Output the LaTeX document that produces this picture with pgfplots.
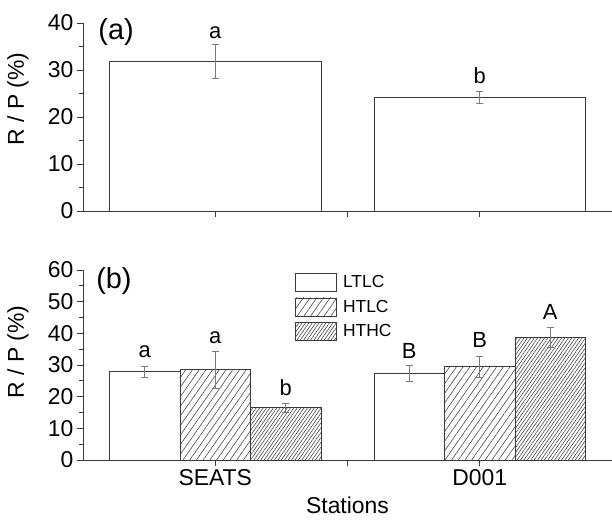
\documentclass[border=0pt]{standalone}
\usepackage{fontspec}
\setmainfont{Liberation Sans}
\usepackage{pgfplots}
\pgfplotsset{compat=1.18}
\usetikzlibrary{patterns.meta}
\definecolor{edge}{HTML}{3A3A3A}
\definecolor{errc}{HTML}{7A7A7A}
\definecolor{hatchc}{HTML}{4A4A4A}
\tikzset{lett/.style={font=\fontsize{22}{25}\selectfont}}

\pgfplotsset{
  common/.style={
    scale only axis, width=529bp,
    xmin=0.5, xmax=2.5,
    axis x line=bottom, axis y line=left,
    axis line style={-, edge, line width=0.9bp},
    tick align=outside, tick style={edge, line width=0.9bp},
    major tick length=6bp, minor tick length=3.5bp,
    minor y tick num=1,
    xtick={1,1.5,2},
    /pgf/number format/assume math mode=true,
    tick label style={font=\fontsize{23}{26}\selectfont},
    label style={font=\fontsize{23}{26}\selectfont},
    clip=false,
  },
  mybar/.style={ybar, bar shift=0pt, draw=edge, line width=0.9bp,
    error bars/y dir=both, error bars/y explicit,
    error bars/error bar style={errc, line width=0.8bp},
    error bars/error mark options={errc, rotate=90, mark size=3.5bp, line width=0.8bp}},
  myleg/.style={legend image code/.code={\draw[##1, draw=edge, line width=0.9bp] (0bp,-9bp) rectangle (41bp,9bp);}},
}

\begin{document}
\begin{tikzpicture}
\path[use as bounding box] (0,0) rectangle (612bp,520bp);

% ---------- panel (a)
\begin{axis}[common,
  at={(83bp,309bp)}, anchor=origin,
  height=188bp,
  ymin=0, ymax=40, ytick={0,10,20,30,40},
  xticklabels={},
  ylabel={R / P (\%)},
  ylabel style={at={(axis description cs:-0.123,0.596)}, anchor=center},
]
\addplot[mybar, bar width=0.8, fill=white] coordinates {
  (1,31.9) += (0,3.6) -= (0,3.6)
  (2,24.1) += (0,1.4) -= (0,1.3)
};
\node[font=\fontsize{29}{32}\selectfont] at (axis cs:0.625,38.1) {(a)};
\node[lett] at (axis cs:1,38.0) {a};
\node[lett] at (axis cs:2,28.8) {b};
\end{axis}

% ---------- panel (b)
\begin{axis}[common,
  at={(83bp,60bp)}, anchor=origin,
  height=190bp,
  ymin=0, ymax=60, ytick={0,10,20,30,40,50,60},
  xticklabels={SEATS,,D001},
  xlabel={Stations},
  xlabel style={at={(axis description cs:0.5,-0.238)}, anchor=center},
  ylabel={R / P (\%)},
  ylabel style={at={(axis description cs:-0.123,0.568)}, anchor=center},
  legend style={at={(axis description cs:0.395,0.995)}, anchor=north west,
    draw=none, fill=none, font=\fontsize{17.5}{19}\selectfont,
    row sep=5.5bp, column sep=6bp, nodes={inner sep=0pt}},
  legend cell align=left,
]
\addplot[mybar, bar width=0.26667, fill=white, myleg] coordinates {
  (0.73333,27.9) += (0,1.6) -= (0,1.7)
  (1.73333,27.3) += (0,2.5) -= (0,2.4)
};
\addlegendentry{LTLC}
\addplot[mybar, bar width=0.26667, fill=white,
  postaction={pattern={Lines[angle=55,distance=5.5bp,line width=0.6bp]}, pattern color=hatchc}, myleg] coordinates {
  (1,28.5) += (0,5.8) -= (0,5.9)
  (2,29.6) += (0,3.2) -= (0,3.4)
};
\addlegendentry{HTLC}
\addplot[mybar, bar width=0.26667, fill=white,
  postaction={pattern={Lines[angle=55,distance=2.8bp,line width=0.6bp]}, pattern color=hatchc}, myleg] coordinates {
  (1.26667,16.5) += (0,1.5) -= (0,1.5)
  (2.26667,38.6) += (0,3.3) -= (0,3.1)
};
\addlegendentry{HTHC}
\node[font=\fontsize{29}{32}\selectfont] at (axis cs:0.617,56.5) {(b)};
\node[lett] at (axis cs:0.73333,34.1) {a};
\node[lett] at (axis cs:1,38.6) {a};
\node[lett] at (axis cs:1.26667,22.8) {b};
\node[lett] at (axis cs:1.73333,34.4) {B};
\node[lett] at (axis cs:2,37.8) {B};
\node[lett] at (axis cs:2.26667,46.9) {A};
\end{axis}
\end{tikzpicture}
\end{document}
